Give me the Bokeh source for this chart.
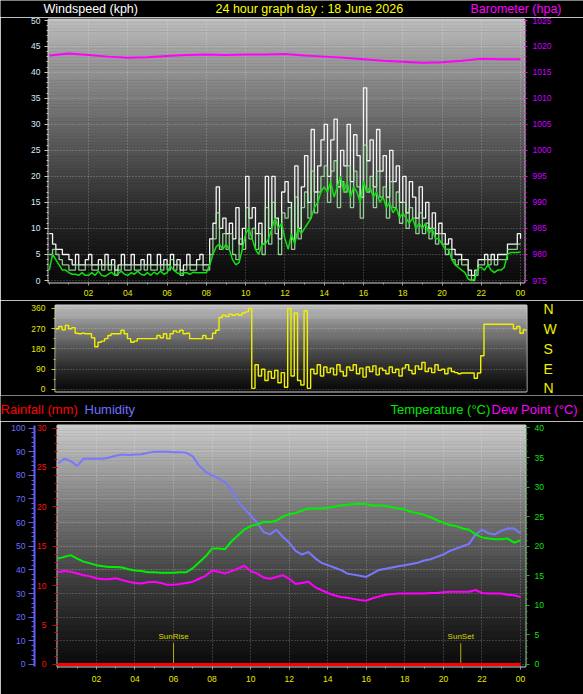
import numpy as np
from bokeh.plotting import figure
from bokeh.models import Range1d, LinearAxis, FixedTicker, SingleIntervalTicker, Label
from bokeh.layouts import column
from bokeh.embed import file_html
from bokeh.resources import INLINE

FONT = "Liberation Sans"

# ---------------- data ----------------
hour_ticks = [2, 4, 6, 8, 10, 12, 14, 16, 18, 20, 22, 24]
hour_labels = ["02", "04", "06", "08", "10", "12", "14", "16", "18", "20", "22", "00"]
minor_hours = list(range(25))

# barometer (hPa), hourly
baro_hours = list(range(25))
barometer = [1018.2, 1018.6, 1018.3, 1018.0, 1017.8, 1017.9, 1018.1, 1018.3, 1018.4,
             1018.3, 1018.4, 1018.4, 1018.5, 1018.2, 1018.0, 1017.8, 1017.5, 1017.2,
             1017.0, 1016.8, 1016.9, 1017.2, 1017.6, 1017.5, 1017.5]

# wind (kph), 10-minute samples
wind_hours = [i / 6 for i in range(145)]
gust = [
    9, 7, 6, 6, 5, 5,
    4, 3, 5, 3, 3, 4,
    5, 3, 3, 4, 3, 5,
    3, 4, 2, 3, 5, 3,
    3, 5, 3, 3, 4, 3,
    5, 3, 3, 5, 3, 4,
    3, 5, 3, 4, 2, 3,
    5, 3, 3, 4, 5, 3,
    3, 8, 11, 18, 10, 12,
    9, 11, 8, 14, 7, 10,
    20, 12, 14, 9, 11, 7,
    20, 10, 20, 12, 8, 17,
    19, 15, 8, 22, 10, 18,
    24, 15, 29, 17, 22, 27,
    30, 20, 27, 31, 18, 25,
    22, 30, 19, 28, 24, 16,
    37, 23, 27, 18, 29, 21,
    24, 16, 25, 19, 22, 15,
    20, 13, 19, 16, 12, 18,
    12, 15, 10, 13, 9, 11,
    9, 7, 8, 6, 5, 5,
    4, 4, 2, 1, 2, 4,
    4, 5, 4, 5, 4, 5,
    5, 5, 7, 7, 7, 9,
    8]
speed = [
    5, 6, 5, 4, 3, 3,
    2, 2, 3, 2, 2, 3,
    3, 2, 2, 3, 2, 3,
    2, 3, 1, 2, 3, 2,
    2, 3, 2, 2, 3, 2,
    3, 2, 2, 3, 2, 3,
    2, 4, 2, 3, 1, 2,
    3, 2, 2, 3, 3, 2,
    2, 5, 8, 13, 6, 9,
    6, 9, 5, 4, 8, 6,
    14, 8, 10, 6, 9, 5,
    14, 7, 15, 9, 5, 13,
    12, 14, 6, 16, 8, 14,
    17, 12, 21, 13, 17, 20,
    22, 15, 21, 23, 14, 19,
    17, 22, 14, 21, 18, 12,
    26, 17, 20, 14, 21, 16,
    18, 12, 19, 14, 17, 11,
    15, 10, 14, 12, 9, 13,
    9, 11, 8, 10, 7, 9,
    7, 5, 6, 4, 3, 4,
    3, 3, 1, 0, 1, 3,
    3, 4, 3, 4, 3, 4,
    4, 4, 6, 6, 6, 7,
    7]
avg = [
    2, 5, 4, 3, 2, 2,
    1.5, 1.2, 1.2, 1, 1.5, 1,
    1, 1.5, 1, 1.8, 1, 0.8,
    1.2, 1.6, 1, 1.3, 1.8, 1.2,
    1, 1.5, 1.2, 1.8, 1.2, 1,
    1.5, 1, 1.6, 1.2, 1.8, 1.2,
    1.5, 2.8, 2, 1.5, 1.2, 1.5,
    1.5, 1.2, 1.6, 1.5, 1.5, 1.5,
    1.5, 3, 5, 6.5, 7, 6,
    7, 6, 4, 3, 3.5, 6,
    9, 10, 8, 6, 5, 7,
    7, 8, 10, 12, 10, 11,
    8, 6, 9, 7, 10, 9,
    10, 11, 12, 14, 15, 17,
    18, 17, 19, 16, 18, 20,
    17, 19, 16, 18, 17, 15,
    19, 17, 18, 16, 17, 15,
    16, 14, 15, 13, 14, 12,
    13, 12, 11, 12, 10, 11,
    10, 11, 9, 10, 8, 8,
    7, 6, 6, 4, 3, 2.5,
    2, 1.5, 0.3, 0, 0.3, 2.5,
    2.5, 2, 3, 2, 1.5, 2,
    2, 2.5, 5, 5.4, 5.4, 5.4,
    5.5]

# wind direction (degrees), 10-minute samples
direction = [
    270, 280, 265, 285, 270, 275,
    250, 248, 250, 248, 248, 230,
    190, 210, 215, 226, 240, 248,
    248, 248, 263, 248, 226, 210,
    215, 226, 226, 226, 226, 226,
    226, 240, 230, 248, 226, 248,
    260, 255, 263, 248, 250, 226,
    226, 226, 226, 240, 226, 226,
    250, 263, 320, 330, 325, 335,
    330, 335, 330, 340, 345, 360,
    5, 110, 60, 90, 40, 80,
    50, 85, 30, 75, 10, 360,
    60, 340, 40, 20, 350, 5,
    90, 70, 110, 60, 100, 75,
    95, 65, 110, 80, 60, 100,
    85, 110, 70, 95, 55, 100,
    80, 105, 65, 95, 85, 70,
    100, 75, 90, 60, 95, 110,
    85, 70, 105, 90, 120, 80,
    95, 75, 110, 85, 90, 70,
    95, 80, 75, 70, 73, 73,
    73, 73, 50, 73, 150, 290,
    290, 290, 290, 290, 290, 290,
    290, 290, 270, 280, 250, 265,
    260]
dir_ticks = [0, 90, 180, 270, 360]
dir_letters = ["N", "E", "S", "W", "N"]

# bottom panel, 20-minute samples
th_hours = [i / 3 for i in range(73)]
humidity = [
    85, 87, 86,
    84, 87, 87,
    87, 87, 87.5,
    88.3, 88.8, 88.6,
    88.8, 88.9, 89.5,
    90, 90, 90,
    89.7, 89.8, 89.5,
    88, 84, 81.5,
    80, 78.7, 77,
    74, 69, 66,
    63, 60, 56,
    55, 57, 54,
    51.5, 48, 46.5,
    47.6, 45, 43,
    42, 41, 40,
    38.5, 38, 37.5,
    37, 38.5, 40,
    40.5, 41, 41.5,
    42, 42.5, 43,
    44, 44.5, 45.5,
    46.5, 48, 49,
    50, 51, 55,
    57, 55.5, 55,
    56.5, 57.5, 57.5,
    55.5]
temperature = [
    17.9, 18.2, 18.5,
    17.9, 17.4, 17.1,
    16.8, 16.6, 16.5,
    16.5, 16.4, 16.1,
    15.9, 15.8, 15.6,
    15.6, 15.5, 15.5,
    15.5, 15.6, 15.6,
    16.3, 17.3, 18.3,
    19.6, 19.6, 19.5,
    20.8, 21.8, 22.8,
    23.4, 23.7, 24.1,
    24.1, 24.3, 25.0,
    25.4, 25.6, 26.0,
    26.4, 26.4, 26.4,
    26.5, 26.7, 26.9,
    27.0, 27.1, 27.2,
    27.1, 26.9, 26.9,
    26.8, 26.6, 26.4,
    26.2, 25.8, 25.6,
    25.3, 24.9, 24.4,
    24.0, 23.6, 23.4,
    23.0, 22.8, 22.0,
    21.5, 21.3, 21.2,
    21.2, 21.3, 20.6,
    21.0]
dewpoint = [
    15.6, 15.8, 15.7,
    15.4, 15.1, 14.9,
    14.6, 14.4, 14.4,
    14.6, 14.3, 14.0,
    13.8, 13.7, 13.9,
    14.0, 13.8, 13.5,
    13.5, 13.6, 13.8,
    14.0, 14.5, 15.0,
    15.9, 15.7, 15.4,
    15.8, 16.2, 16.7,
    15.8, 15.4, 14.7,
    14.5, 14.8, 15.1,
    14.5, 13.6, 13.8,
    14.0, 13.1, 12.6,
    12.1, 11.7, 11.4,
    11.3, 11.1, 10.9,
    10.8, 11.2, 11.5,
    11.8, 11.9, 12.0,
    12.0, 12.0, 12.0,
    12.0, 12.1, 12.1,
    12.2, 12.3, 12.3,
    12.3, 12.3, 12.6,
    12.1, 12.0, 12.0,
    12.0, 11.8, 11.7,
    11.4]
rain_hours = [0, 24]
rainfall = [0, 0]
sunrise = 6.0
sunset = 20.9
sun_mark_top = 3.6


# ---------------- helpers ----------------
def gradient(p, x0, x1, y0, y1, top, bottom, n=90, gamma=1.3):
    edges = np.linspace(y0, y1, n + 1)
    frac = (np.arange(n) + 0.5) / n
    shade = bottom + (top - bottom) * frac ** gamma
    cols = ["#%02x%02x%02x" % (int(s), int(s), int(s)) for s in shade]
    r = p.quad(left=x0, right=x1, bottom=edges[:-1], top=edges[1:],
               fill_color=cols, line_color=cols, line_width=0.6)
    r.level = "image"


def style_axis(ax, color, tick_color, size="8.5px", tick_out=4, minor_out=2, standoff=4):
    ax.major_label_text_color = color
    ax.major_label_text_font = FONT
    ax.major_label_text_font_size = size
    ax.major_tick_line_color = tick_color
    ax.minor_tick_line_color = tick_color
    ax.major_tick_out = tick_out
    ax.major_tick_in = 0
    ax.minor_tick_out = minor_out
    ax.minor_tick_in = 0
    ax.major_label_standoff = standoff
    ax.axis_line_color = None


def style_grid(g):
    g.grid_line_color = "#ffffff"
    g.grid_line_alpha = 0.35
    g.grid_line_dash = "1 2"
    g.grid_line_width = 1


def header_fig(h):
    p = figure(width=583, height=h, x_range=Range1d(0, 583), y_range=Range1d(h, 0),
               title=None,
               min_border_left=0, min_border_right=0, min_border_top=0, min_border_bottom=0,
               x_axis_location=None, y_axis_location=None, output_backend="svg",
               toolbar_location=None, background_fill_color="black",
               border_fill_color="black", outline_line_color=None, frame_align=False)
    p.xgrid.visible = False
    p.ygrid.visible = False
    return p


def header(p, x, y, text, color, align="left", size="13px"):
    p.add_layout(Label(x=x, y=y, text=text, text_color=color, text_font=FONT,
                       text_font_size=size, text_align=align, text_baseline="middle"))


common = dict(output_backend="svg", toolbar_location=None, frame_align=False, title=None,
              background_fill_color="black", border_fill_color="black",
              outline_line_color="#cfcfcf", outline_line_width=2)

# ---------------- top header ----------------
h1 = header_fig(17)
header(h1, 43, 8.3, "Windspeed (kph)", "#ffffff", size="12.5px")
header(h1, 215, 8.3, "24 hour graph day : 18 June 2026", "#ffff00", size="12.5px")
header(h1, 561, 8.3, "Barometer (hpa)", "#ff00ff", align="right", size="12.5px")

# ---------------- top panel: wind + barometer ----------------
p1 = figure(width=583, height=283, x_range=Range1d(-0.04, 24.2), y_range=Range1d(-0.38, 50.13),
            min_border_left=48, min_border_right=59, min_border_top=2, min_border_bottom=18,
            **common)
p1.extra_y_ranges = {"baro": Range1d(974.62, 1025.13)}
gradient(p1, -1, 25, -0.38, 50.13, 190, 12)

p1.yaxis.ticker = SingleIntervalTicker(interval=5, num_minor_ticks=5)
style_axis(p1.yaxis[0], "#d8ecff", "#c8c8c8", tick_out=4, minor_out=2, standoff=4)
p1.xaxis.ticker = FixedTicker(ticks=hour_ticks, minor_ticks=minor_hours)
p1.xaxis.major_label_overrides = dict(zip(hour_ticks, hour_labels))
style_axis(p1.xaxis[0], "#e8e800", "#a0a0a0", tick_out=3, minor_out=2, standoff=4)
baro_axis = LinearAxis(y_range_name="baro", ticker=SingleIntervalTicker(interval=5, num_minor_ticks=5))
style_axis(baro_axis, "#cc00ff", "#ff00ff", tick_out=3, minor_out=2, standoff=5)
p1.add_layout(baro_axis, "right")
style_grid(p1.xgrid[0])
style_grid(p1.ygrid[0])
p1.xgrid.ticker = FixedTicker(ticks=hour_ticks)

p1.line(baro_hours, barometer, y_range_name="baro", line_color="#ff00ff", line_width=2)
p1.step(wind_hours, gust, mode="after", line_color="#f4f4f4", line_width=1.3)
p1.step(wind_hours, speed, mode="after", line_color="#a8e8a8", line_width=1.3, line_alpha=0.85)
p1.line(wind_hours, avg, line_color="#10e010", line_width=1.5)

# ---------------- middle panel: wind direction ----------------
p2 = figure(width=583, height=95, x_range=Range1d(0, 24), y_range=Range1d(-8.9, 373.3),
            min_border_left=55, min_border_right=57, min_border_top=5, min_border_bottom=4,
            x_axis_location=None, **common)
gradient(p2, -1, 25, -8.9, 373.3, 195, 12)
p2.yaxis.ticker = FixedTicker(ticks=dir_ticks, minor_ticks=[45, 135, 225, 315])
style_axis(p2.yaxis[0], "#e8e800", "#d0d000", tick_out=4, minor_out=2, standoff=6)
nwse = LinearAxis(ticker=FixedTicker(ticks=dir_ticks), major_label_overrides=dict(zip(dir_ticks, dir_letters)))
style_axis(nwse, "#f0f000", None, size="14px", tick_out=0, minor_out=0, standoff=17)
p2.add_layout(nwse, "right")
p2.xgrid.visible = False
style_grid(p2.ygrid[0])
p2.ygrid.ticker = FixedTicker(ticks=dir_ticks)
p2.step(wind_hours, direction, mode="after", line_color="#f0f000", line_width=1.4)

# ---------------- bottom header ----------------
h3 = header_fig(26)
header(h3, 0, 14.2, "Rainfall (mm)", "#ff0000")
header(h3, 84, 14.2, "Humidity", "#7070ff")
header(h3, 390, 14.2, "Temperature (\u00b0C)", "#00e600")
header(h3, 491, 14.2, "Dew Point (\u00b0C)", "#ff00ff")

# ---------------- bottom panel: rain, humidity, temperature, dew point ----------------
p3 = figure(width=583, height=273, x_range=Range1d(-0.02, 24.26), y_range=Range1d(-0.254, 30.32),
            min_border_left=57, min_border_right=58, min_border_top=4, min_border_bottom=28,
            **common)
p3.extra_y_ranges = {"hum": Range1d(-0.85, 101.06), "temp": Range1d(-0.34, 40.42)}
gradient(p3, -1, 25, -0.254, 30.32, 205, 14)

p3.yaxis.ticker = SingleIntervalTicker(interval=5, num_minor_ticks=5)
style_axis(p3.yaxis[0], "#ff1010", "#e00000", tick_out=5, minor_out=3, standoff=6)
hum_axis = LinearAxis(y_range_name="hum", ticker=SingleIntervalTicker(interval=10, num_minor_ticks=5))
style_axis(hum_axis, "#6e6eff", "#6060ff", tick_out=6, minor_out=3, standoff=3)
hum_axis.axis_line_color = "#6060ff"
hum_axis.axis_line_width = 2
p3.add_layout(hum_axis, "left")
temp_axis = LinearAxis(y_range_name="temp", ticker=SingleIntervalTicker(interval=5, num_minor_ticks=5))
style_axis(temp_axis, "#10e010", "#10c010", tick_out=4, minor_out=2, standoff=5)
p3.add_layout(temp_axis, "right")
p3.xaxis.ticker = FixedTicker(ticks=hour_ticks, minor_ticks=minor_hours)
p3.xaxis.major_label_overrides = dict(zip(hour_ticks, hour_labels))
style_axis(p3.xaxis[0], "#e8e800", "#a0a0a0", tick_out=3, minor_out=2, standoff=6)
style_grid(p3.xgrid[0])
style_grid(p3.ygrid[0])
p3.xgrid.ticker = FixedTicker(ticks=hour_ticks)
p3.ygrid.ticker = SingleIntervalTicker(interval=3)

p3.segment(x0=[sunrise, sunset], y0=[0, 0], x1=[sunrise, sunset], y1=[sun_mark_top, sun_mark_top],
           y_range_name="temp", line_color="#b0b000", line_width=1)
for hx, txt in ((sunrise, "SunRise"), (sunset, "SunSet")):
    p3.add_layout(Label(x=hx, y=sun_mark_top + 0.3, y_range_name="temp", text=txt,
                        text_color="#d8d800", text_font=FONT, text_font_size="8px",
                        text_align="center", text_baseline="bottom"))

p3.line(th_hours, humidity, y_range_name="hum", line_color="#7878ff", line_width=2)
p3.line(th_hours, temperature, y_range_name="temp", line_color="#00f000", line_width=2)
p3.line(th_hours, dewpoint, y_range_name="temp", line_color="#ff00ff", line_width=2)
p3.line(rain_hours, rainfall, line_color="#ff0000", line_width=3)

layout = column(h1, p1, p2, h3, p3, spacing=0)
html = file_html(layout, INLINE, title="24 hour graph")
html = html.replace("<body>", '<body style="background-color:#000000;">', 1)
open("out.html", "w").write(html)
